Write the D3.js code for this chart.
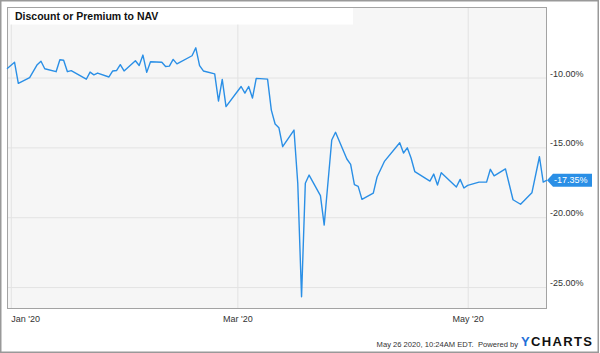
<!DOCTYPE html>
<html>
<head>
<meta charset="utf-8">
<script src="https://cdn.jsdelivr.net/npm/d3@7"></script>
<style>
  body { margin: 0; background: #fff; }
  svg { display: block; font-family: "Liberation Sans", Arial, sans-serif; }
</style>
</head>
<body>
<div id="viz"></div>
<script>
// daily discount/premium readings (%)
const dates = [
  '2019-12-31', '2020-01-02', '2020-01-03', '2020-01-06', '2020-01-08', '2020-01-09', '2020-01-10',
  '2020-01-13', '2020-01-14', '2020-01-15', '2020-01-16', '2020-01-17', '2020-01-21', '2020-01-22',
  '2020-01-23', '2020-01-24', '2020-01-27', '2020-01-28', '2020-01-29', '2020-01-30', '2020-01-31',
  '2020-02-03', '2020-02-04', '2020-02-05', '2020-02-06', '2020-02-07', '2020-02-10', '2020-02-11',
  '2020-02-12', '2020-02-13', '2020-02-14', '2020-02-18', '2020-02-19', '2020-02-20', '2020-02-21',
  '2020-02-24', '2020-02-25', '2020-02-26', '2020-02-27', '2020-03-02', '2020-03-03', '2020-03-04',
  '2020-03-05', '2020-03-06', '2020-03-09', '2020-03-10', '2020-03-11', '2020-03-12', '2020-03-13',
  '2020-03-16', '2020-03-17', '2020-03-18', '2020-03-19', '2020-03-20', '2020-03-23', '2020-03-24',
  '2020-03-26', '2020-03-27', '2020-03-30', '2020-03-31', '2020-04-01', '2020-04-02', '2020-04-03',
  '2020-04-06', '2020-04-07', '2020-04-09', '2020-04-13', '2020-04-14', '2020-04-15', '2020-04-16',
  '2020-04-17', '2020-04-21', '2020-04-22', '2020-04-23', '2020-04-24', '2020-04-28', '2020-04-29',
  '2020-04-30', '2020-05-01', '2020-05-04', '2020-05-06', '2020-05-07', '2020-05-08', '2020-05-11',
  '2020-05-13', '2020-05-15', '2020-05-18', '2020-05-20', '2020-05-21', '2020-05-22'
];
const values = [
  -9.37, -8.91, -10.42, -10.00, -9.08, -8.83, -9.37,
  -9.58, -8.73, -8.76, -9.58, -9.51, -10.12, -9.61,
  -9.81, -9.68, -9.96, -9.53, -9.50, -9.08, -9.53,
  -8.80, -9.14, -8.39, -9.63, -8.87, -8.90, -9.21,
  -9.18, -8.70, -9.02, -8.44, -7.87, -9.14, -9.53,
  -9.74, -11.68, -10.13, -12.08, -10.64, -11.11, -10.64,
  -11.47, -10.06, -10.11, -12.33, -13.33, -13.59, -14.95,
  -13.76, -17.57, -25.69, -17.57, -16.98, -18.45, -20.56,
  -14.47, -13.92, -15.83, -16.21, -17.67, -17.79, -18.72,
  -18.27, -17.12, -15.98, -14.67, -15.40, -15.03, -15.76,
  -16.74, -17.41, -16.91, -17.70, -16.81, -17.84, -17.29,
  -17.91, -17.72, -17.49, -17.49, -16.57, -17.04, -16.54,
  -18.75, -19.07, -18.25, -15.67, -17.48, -17.35
];
const yTicks = [-10, -15, -20, -25];
const xTickDates = ['2020-01-01', '2020-03-01', '2020-05-01'];
const xTickLabels = ["Jan '20", "Mar '20", "May '20"];
const title = 'Discount or Premium to NAV';
const footer = 'May 26 2020, 10:24AM EDT.  Powered by';

const width = 600;
const height = 353;
const plot = { left: 7, right: 547, top: 7, bottom: 309 };
const lineColor = '#2a8fe6';

const parse = d3.utcParse('%Y-%m-%d');
const data = dates.map((d, i) => ({ date: parse(d), value: values[i] }));

const svg = d3.select('#viz').append('svg')
  .attr('width', width)
  .attr('height', height);

const xScale = d3.scaleUtc()
  .domain([parse('2019-12-31'), parse('2020-05-22')])
  .range([plot.left, plot.right]);

const yScale = d3.scaleLinear()
  .domain([-26.57, -4.95])
  .range([plot.bottom, plot.top]);

// outer frame
svg.append('rect')
  .attr('x', 0.75).attr('y', 0.75)
  .attr('width', 597.5).attr('height', 351.5)
  .style('fill', '#fff')
  .style('stroke', '#999')
  .style('stroke-width', 1.5);

// plot background
svg.append('rect')
  .attr('x', plot.left).attr('y', plot.top)
  .attr('width', plot.right - plot.left)
  .attr('height', plot.bottom - plot.top)
  .style('fill', '#f6f6f6');

// grid
const yGrid = svg.append('g')
  .attr('transform', `translate(${plot.left},0)`)
  .call(d3.axisLeft(yScale).tickValues(yTicks).tickSize(-(plot.right - plot.left)).tickFormat(''));
yGrid.select('.domain').remove();
yGrid.selectAll('line').style('stroke', '#e3e3e3');

const xGrid = svg.append('g')
  .attr('transform', `translate(0,${plot.bottom})`)
  .call(d3.axisBottom(xScale).tickValues(xTickDates.map(parse)).tickSize(-(plot.bottom - plot.top)).tickFormat(''));
xGrid.select('.domain').remove();
xGrid.selectAll('line').style('stroke', '#e3e3e3');

// plot border
svg.append('rect')
  .attr('x', plot.left + 0.5).attr('y', plot.top + 0.5)
  .attr('width', plot.right - plot.left - 1)
  .attr('height', plot.bottom - plot.top - 1)
  .style('fill', 'none')
  .style('stroke', '#a3a3a3');

// title box
svg.append('rect')
  .attr('x', 10).attr('y', 8)
  .attr('width', 343).attr('height', 16.5)
  .style('fill', '#fff');

svg.append('text')
  .attr('x', 15).attr('y', 19.5)
  .text(title)
  .style('font-size', '10.5px')
  .style('font-weight', 'bold')
  .style('fill', '#111');

// series
svg.append('path')
  .datum(data)
  .attr('d', d3.line().x(d => xScale(d.date)).y(d => yScale(d.value)))
  .style('fill', 'none')
  .style('stroke', lineColor)
  .style('stroke-width', 1.4)
  .style('stroke-linejoin', 'round');

// y axis labels
const yAxis = svg.append('g')
  .attr('transform', `translate(${plot.right},0)`)
  .call(d3.axisRight(yScale).tickValues(yTicks).tickSize(0).tickPadding(3)
    .tickFormat(d => d.toFixed(2) + '%'));
yAxis.select('.domain').remove();
yAxis.selectAll('text')
  .attr('dy', -1.5)
  .style('font-family', '"Liberation Sans", Arial, sans-serif')
  .style('font-size', '9px')
  .style('fill', '#333');

// x axis labels
const xAxis = svg.append('g')
  .attr('transform', `translate(0,${plot.bottom})`)
  .call(d3.axisBottom(xScale).tickValues(xTickDates.map(parse)).tickSize(0)
    .tickFormat((d, i) => xTickLabels[i]));
xAxis.select('.domain').remove();
xAxis.selectAll('text')
  .attr('y', 12.7)
  .attr('dy', 0)
  .attr('text-anchor', (d, i) => i === 0 ? 'start' : 'middle')
  .style('font-family', '"Liberation Sans", Arial, sans-serif')
  .style('font-size', '9px')
  .style('fill', '#333');

// last value tag
const last = data[data.length - 1];
const ty = yScale(last.value);
svg.append('path')
  .attr('d', `M${plot.right},${ty} L${plot.right + 6},${ty - 6.5} L592,${ty - 6.5} L592,${ty + 6.5} L${plot.right + 6},${ty + 6.5} Z`)
  .style('fill', lineColor);
svg.append('text')
  .attr('x', 554).attr('y', ty + 3.2)
  .text(last.value.toFixed(2) + '%')
  .style('font-size', '9px')
  .style('fill', '#fff');

// footer
svg.append('text')
  .attr('x', 518).attr('y', 346.5)
  .attr('text-anchor', 'end')
  .text(footer)
  .style('font-size', '7.6px')
  .style('fill', '#333')
  .style('white-space', 'pre');

const logo = svg.append('text')
  .attr('x', 521).attr('y', 346)
  .attr('textLength', 71)
  .attr('lengthAdjust', 'spacing')
  .style('font-size', '13px')
  .style('font-weight', 'bold');
logo.append('tspan').text('Y').style('fill', '#1f6fd8');
logo.append('tspan').text('CHARTS').style('fill', '#111');
</script>
</body>
</html>
